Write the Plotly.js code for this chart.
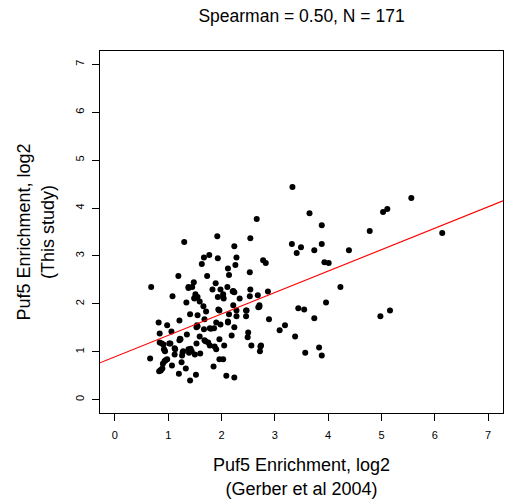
<!DOCTYPE html>
<html>
<head>
<meta charset="utf-8">
<script src="https://cdn.plot.ly/plotly-3.0.1.min.js"></script>
<style>
  html, body { margin: 0; padding: 0; background: #ffffff; }
  #chart { width: 505px; height: 502px; }
</style>
</head>
<body>
<div id="chart"></div>
<script>
// Puf5 enrichment, Gerber et al 2004 (x) vs this study (y), log2
const gerberLog2 = [
  3.33, 5.56, 3.65, 5.11, 5.03, 2.66, 3.88, 4.78, 6.14, 1.92,
  2.54, 1.30, 3.32, 3.88, 2.24, 3.49, 3.41, 3.74, 4.39, 1.77,
  1.67, 1.93, 2.28, 2.78, 2.83, 1.63, 3.93, 4.01, 2.26, 2.12,
  2.53, 2.14, 1.19, 1.73, 1.48, 1.89, 0.68, 1.38, 1.45, 4.23,
  1.83, 1.98, 2.11, 2.54, 2.87, 2.21, 2.24, 1.51, 2.03, 1.08,
  1.55, 1.49, 1.93, 2.04, 2.53, 2.68, 2.34, 1.59, 1.34, 3.96,
  1.66, 2.22, 2.71, 2.69, 3.44, 3.55, 1.94, 1.71, 2.28, 2.46,
  2.14, 1.41, 1.55, 2.28, 2.46, 5.16, 4.98, 3.74, 1.68, 2.89,
  1.21, 0.82, 1.90, 1.98, 2.12, 0.98, 1.54, 1.53, 3.19, 2.24,
  1.78, 1.86, 1.67, 3.09, 0.84, 1.06, 1.35, 2.50, 1.59, 2.19,
  3.38, 2.49, 1.23, 1.21, 1.68, 1.96, 0.84, 0.88, 1.75, 0.91,
  1.04, 1.53, 1.78, 1.87, 2.05, 2.56, 2.74, 2.73, 3.83, 1.12,
  0.92, 1.90, 1.38, 1.44, 2.72, 0.94, 1.28, 1.39, 3.57, 1.50,
  1.60, 1.12, 1.26, 3.88, 0.66, 0.98, 1.96, 2.03, 0.93, 1.25,
  0.90, 1.07, 1.85, 0.89, 1.33, 0.86, 0.83, 1.20, 1.52, 2.09,
  2.24, 1.41,
  0.86, 0.93, 1.02, 1.27, 1.42, 1.49, 1.55, 1.70, 1.80, 1.96,
  2.03, 2.12, 2.22, 1.38, 1.13, 0.95, 1.22, 2.47, 2.71
];
const thisStudyLog2 = [
  4.44, 4.21, 3.89, 3.98, 3.92, 3.77, 3.64, 3.52, 3.48, 3.41,
  3.37, 3.29, 3.25, 3.25, 3.20, 3.18, 3.06, 3.12, 3.12, 3.02,
  2.97, 2.95, 2.97, 2.91, 2.85, 2.83, 2.87, 2.85, 2.81, 2.74,
  2.66, 2.60, 2.58, 2.58, 2.45, 2.43, 2.35, 2.35, 2.35, 2.35,
  2.30, 2.30, 2.35, 2.30, 2.26, 2.26, 2.24, 2.20, 2.20, 2.16,
  2.14, 2.11, 2.14, 2.11, 2.16, 2.18, 2.11, 2.05, 2.03, 2.03,
  1.95, 1.97, 1.97, 1.93, 1.91, 1.88, 1.88, 1.84, 1.86, 1.86,
  1.78, 1.78, 1.76, 1.74, 1.74, 1.86, 1.74, 1.70, 1.68, 1.68,
  1.65, 1.61, 1.61, 1.57, 1.61, 1.55, 1.55, 1.51, 1.55, 1.51,
  1.49, 1.49, 1.47, 1.45, 1.38, 1.42, 1.36, 1.40, 1.32, 1.34,
  1.32, 1.30, 1.26, 1.24, 1.24, 1.26, 1.19, 1.17, 1.19, 1.15,
  1.17, 1.17, 1.13, 1.11, 1.13, 1.13, 1.13, 1.11, 1.09, 1.07,
  1.05, 1.05, 1.05, 1.01, 1.01, 1.01, 1.01, 0.98, 0.98, 0.94,
  0.96, 0.94, 0.92, 0.92, 0.86, 0.84, 0.84, 0.84, 0.80, 0.78,
  0.75, 0.71, 0.69, 0.65, 0.65, 0.61, 0.59, 0.54, 0.52, 0.50,
  0.46, 0.40,
  0.62, 1.03, 1.17, 0.99, 1.06, 2.12, 1.53, 1.22, 1.48, 1.86,
  2.14, 1.63, 2.27, 2.33, 1.05, 0.82, 1.27, 1.86, 1.94
];
const fitIntercept = 0.894;
const fitSlope = 0.4475;
const axisRange = [-0.28, 7.28];
const xTickValues = [0, 1, 2, 3, 4, 5, 6, 7];
const yTickValues = [0, 1, 2, 3, 4, 5, 6, 7];
const mainTitle = "Spearman = 0.50, N = 171";
const xTitle = "Puf5 Enrichment, log2<br>(Gerber et al 2004)";
const yTitle = "Puf5 Enrichment, log2<br>(This study)";

const FONT = "Liberation Sans, Arial, Helvetica, sans-serif";

const points = {
  type: "scatter",
  mode: "markers",
  x: gerberLog2,
  y: thisStudyLog2,
  marker: { color: "#000000", size: 6, line: { width: 0 } },
  hoverinfo: "x+y",
  showlegend: false
};

const fitX = axisRange.slice();
const fitY = fitX.map(v => fitIntercept + fitSlope * v);
const fitLine = {
  type: "scatter",
  mode: "lines",
  x: fitX,
  y: fitY,
  line: { color: "#ff0000", width: 1.1 },
  hoverinfo: "skip",
  showlegend: false
};

const axisCommon = {
  range: axisRange,
  tickmode: "array",
  showgrid: false,
  zeroline: false,
  showline: true,
  mirror: true,
  linecolor: "#000000",
  linewidth: 1,
  ticks: "outside",
  ticklen: 7,
  tickwidth: 1,
  tickcolor: "#000000",
  tickfont: { family: FONT, size: 11, color: "#000000" }
};

const layout = {
  width: 505,
  height: 502,
  paper_bgcolor: "#ffffff",
  plot_bgcolor: "#ffffff",
  margin: { l: 100, r: 2, t: 51, b: 89, pad: 0 },
  font: { family: FONT, color: "#000000" },
  title: {
    text: mainTitle,
    font: { family: FONT, size: 17.5, color: "#000000" },
    xref: "paper",
    x: 0.5,
    xanchor: "center",
    yref: "container",
    y: 1 - 16 / 502,
    yanchor: "middle"
  },
  xaxis: Object.assign({}, axisCommon, {
    tickvals: xTickValues,
    ticktext: xTickValues.map(String),
    ticklabelstandoff: 5,
    title: { text: xTitle, font: { family: FONT, size: 18, color: "#000000" }, standoff: 18 }
  }),
  yaxis: Object.assign({}, axisCommon, {
    tickvals: yTickValues,
    ticktext: yTickValues.map(String),
    tickangle: -90,
    ticklabelstandoff: 4,
    title: { text: yTitle, font: { family: FONT, size: 18, color: "#000000" }, standoff: 14 }
  })
};

Plotly.newPlot("chart", [points, fitLine], layout, { displayModeBar: false, staticPlot: true });
</script>
</body>
</html>
